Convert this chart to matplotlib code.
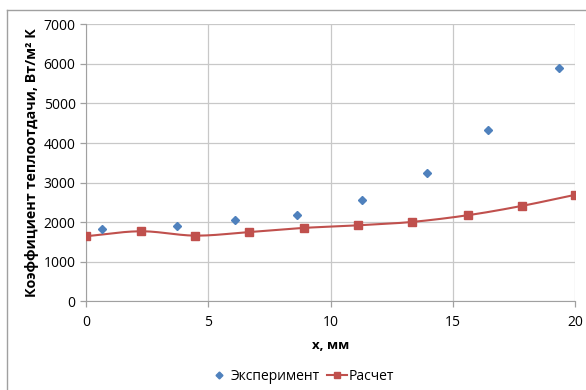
import numpy as np
import matplotlib.pyplot as plt
from matplotlib.lines import Line2D

plt.rcParams['font.family'] = ['Open Sans', 'DejaVu Sans']

# эксперимент
x_exp = [0.65, 3.72, 6.09, 8.61, 11.27, 13.93, 16.43, 19.35]
h_exp = [1820, 1915, 2065, 2180, 2570, 3230, 4340, 5900]

# расчет
x_calc = [0.0, 2.24, 4.47, 6.68, 8.92, 11.12, 13.32, 15.61, 17.82, 20.0]
h_calc = [1645, 1770, 1660, 1750, 1855, 1920, 2005, 2175, 2410, 2690]

x_ticks = [0, 5, 10, 15, 20]
y_ticks = [0, 1000, 2000, 3000, 4000, 5000, 6000, 7000]


def smooth(xs, ys, n=30):
    # сглаженная линия как в Excel (Catmull-Rom)
    p = np.column_stack([xs, ys]).astype(float)
    p = np.vstack([2 * p[0] - p[1], p, 2 * p[-1] - p[-2]])
    out = []
    t = np.linspace(0, 1, n)[:, None]
    for i in range(1, len(p) - 2):
        p0, p1, p2, p3 = p[i - 1], p[i], p[i + 1], p[i + 2]
        seg = 0.5 * ((2 * p1) + (-p0 + p2) * t + (2 * p0 - 5 * p1 + 4 * p2 - p3) * t ** 2
                     + (-p0 + 3 * p1 - 3 * p2 + p3) * t ** 3)
        out.append(seg if i == 1 else seg[1:])
    out = np.vstack(out)
    return out[:, 0], out[:, 1]


fig = plt.figure(figsize=(5.86, 3.90), dpi=100)
ax = fig.add_axes([0.1468, 0.2274, 0.8344, 0.7103])

blue = '#4F81BD'
red = '#C0504D'

sx, sy = smooth(x_calc, h_calc)
ax.plot(sx, sy, color=red, lw=1.5, zorder=3)
ax.plot(x_calc, h_calc, 's', color=red, ms=5.5, zorder=4)
ax.plot(x_exp, h_exp, 'D', color=blue, ms=4.5, zorder=4)

ax.set_xlim(0, 20)
ax.set_ylim(0, 7000)
ax.set_xticks(x_ticks)
ax.set_yticks(y_ticks)
ax.grid(True, color='#C8C8C8', lw=0.9)
ax.set_axisbelow(True)
for s in ['top', 'right']:
    ax.spines[s].set_visible(False)
for s in ['left', 'bottom']:
    ax.spines[s].set_color('#A0A0A0')
ax.tick_params(axis='both', labelsize=10, color='#A0A0A0', length=4, width=0.9)
ax.tick_params(axis='x', pad=6)

ax.set_xlabel('x, мм', fontsize=9.5, fontweight='bold', labelpad=6)
ax.set_ylabel('Коэффициент теплоотдачи, Вт/м² К', fontsize=10.3, fontweight='bold', labelpad=3)

handles = [
    Line2D([], [], marker='D', color=blue, ls='none', ms=3.5),
    Line2D([], [], marker='s', color=red, lw=1.5, ms=4.5),
]
fig.legend(handles, ['Эксперимент', 'Расчет'], loc='center', bbox_to_anchor=(0.515, 0.035),
           ncol=2, frameon=False, fontsize=10, handlelength=1.4, columnspacing=0.5,
           handletextpad=0.15)

# рамка области диаграммы
fig.add_artist(Line2D([7 / 586, 7 / 586], [0, 1 - 10 / 390], color='#A0A0A0', lw=1.0))
fig.add_artist(Line2D([7 / 586, 1], [1 - 10 / 390, 1 - 10 / 390], color='#A0A0A0', lw=1.0))

fig.savefig('out.png', dpi=100)
